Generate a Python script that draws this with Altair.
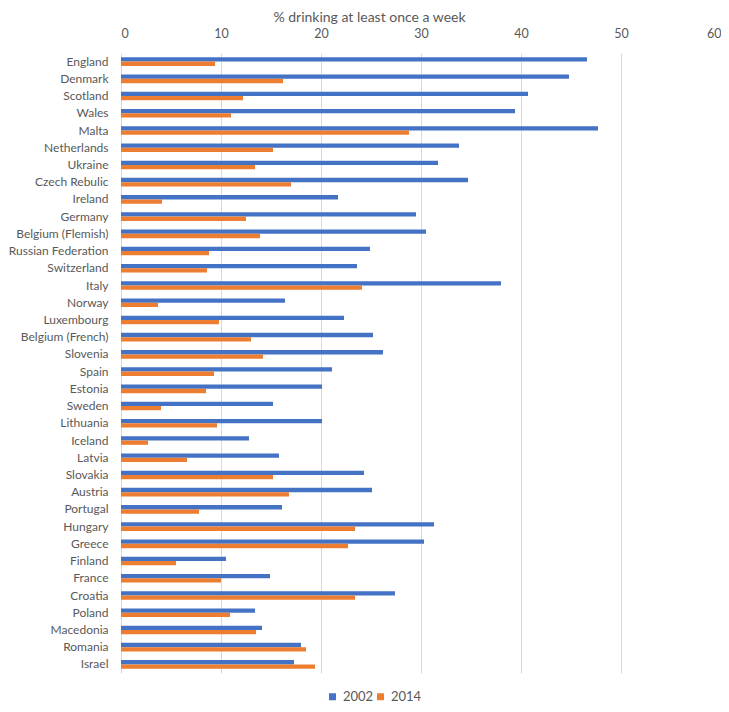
import altair as alt
import pandas as pd

countries = [
    "England", "Denmark", "Scotland", "Wales", "Malta", "Netherlands", "Ukraine",
    "Czech Rebulic", "Ireland", "Germany", "Belgium (Flemish)", "Russian Federation",
    "Switzerland", "Italy", "Norway", "Luxembourg", "Belgium (French)", "Slovenia",
    "Spain", "Estonia", "Sweden", "Lithuania", "Iceland", "Latvia", "Slovakia",
    "Austria", "Portugal", "Hungary", "Greece", "Finland", "France", "Croatia",
    "Poland", "Macedonia", "Romania", "Israel",
]
values_2002 = [
    46.6, 44.8, 40.7, 39.4, 47.7, 33.8, 31.7,
    34.7, 21.7, 29.5, 30.5, 24.9,
    23.6, 38.0, 16.4, 22.3, 25.2, 26.2,
    21.1, 20.1, 15.2, 20.1, 12.8, 15.8, 24.3,
    25.1, 16.1, 31.3, 30.3, 10.5, 14.9, 27.4,
    13.4, 14.1, 18.0, 17.3,
]
values_2014 = [
    9.4, 16.2, 12.2, 11.0, 28.8, 15.2, 13.4,
    17.0, 4.1, 12.5, 13.9, 8.8,
    8.6, 24.1, 3.7, 9.8, 13.0, 14.2,
    9.3, 8.5, 4.0, 9.6, 2.7, 6.6, 15.2,
    16.8, 7.8, 23.4, 22.7, 5.5, 10.0, 23.4,
    10.9, 13.5, 18.5, 19.4,
]
years = ["2002", "2014"]
colors = ["#4472C4", "#ED7D31"]
x_ticks = [0, 10, 20, 30, 40, 50, 60]

rows = []
for c, a, b in zip(countries, values_2002, values_2014):
    rows.append({"country": c, "year": years[0], "value": a})
    rows.append({"country": c, "year": years[1], "value": b})
df = pd.DataFrame(rows)

FONT = "Lato"
GREY = "#595959"

chart = alt.Chart(df).mark_bar().encode(
    x=alt.X(
        "value:Q",
        scale=alt.Scale(domain=[0, 60], nice=False, zero=True),
        axis=alt.Axis(
            orient="top",
            values=x_ticks,
            domain=False,
            ticks=False,
            grid=True,
            gridColor="#D9D9D9",
            gridWidth=1,
            labelColor=GREY,
            labelFont=FONT,
            labelFontSize=12.5,
            labelPadding=13,
            title="% drinking at least once a week",
            titleFont=FONT,
            titleFontSize=14,
            titleFontWeight="normal",
            titleColor=GREY,
            titleX=248,
            titleY=-36,
            titleAlign="center",
            titleBaseline="middle",
            titleAnchor="start",
        ),
    ),
    y=alt.Y(
        "country:N",
        sort=countries,
        scale=alt.Scale(paddingInner=0.5, paddingOuter=0.25),
        axis=alt.Axis(
            domain=False,
            ticks=False,
            grid=False,
            labelColor=GREY,
            labelFont=FONT,
            labelFontSize=12,
            labelPadding=13,
            title=None,
        ),
    ),
    yOffset=alt.YOffset("year:N", sort=years, scale=alt.Scale(paddingInner=0, paddingOuter=0)),
    color=alt.Color(
        "year:N",
        scale=alt.Scale(domain=years, range=colors),
        legend=alt.Legend(
            orient="none",
            direction="horizontal",
            legendX=205,
            legendY=637,
            title=None,
            symbolType="square",
            symbolSize=49,
            symbolStrokeWidth=0,
            labelFont=FONT,
            labelFontSize=13,
            labelColor=GREY,
            labelOffset=4,
            columnPadding=0,
        ),
    ),
).properties(
    width=600,
    height=620,
    autosize=alt.AutoSizeParams(type="none"),
    padding={"left": 113, "top": 45, "right": 0, "bottom": 31},
).configure_view(stroke=None)

chart.save("out.html", embed_options={"renderer": "svg", "actions": False})
